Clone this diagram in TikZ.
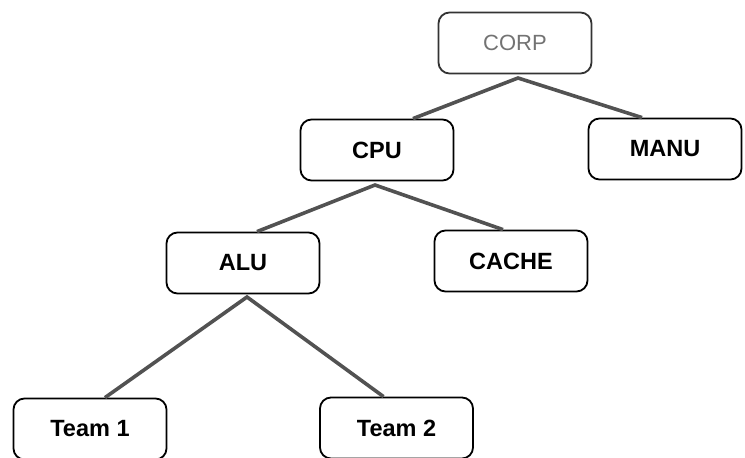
\documentclass[tikz,border=0pt]{standalone}
\usepackage{fontspec}
\setmainfont{Liberation Sans}
\begin{document}
\begin{tikzpicture}[x=1pt,y=-1pt,
  box/.style={draw=black, line width=1.8pt, rounded corners=11pt, fill=white,
    minimum width=153pt, minimum height=61pt, inner sep=0pt,
    font=\fontsize{23.5}{25}\selectfont\bfseries},
  link/.style={draw=black!68, line width=3.6pt}]
\useasboundingbox (0,0) rectangle (745,458);
\clip (0,0) rectangle (745,458);
\node[box, draw=black!80, text=black!55, font=\fontsize{22}{24}\selectfont] (corp) at (515,43) {CORP};
\node[box] (cpu) at (377,150) {CPU};
\node[box] (manu) at (665,149) {MANU};
\node[box] (alu) at (243,263) {ALU};
\node[box] (cache) at (511,261) {CACHE};
\node[box] (t1) at (90,429) {\raisebox{-3pt}{Team 1}};
\node[box] (t2) at (396.5,428) {\raisebox{-2pt}{Team 2}};
\coordinate (corpj) at (518,78);
\coordinate (cpuj) at (375,185);
\coordinate (aluj) at (247,297);
\draw[link] ([xshift=36pt]cpu.north) -- (corpj) -- ([xshift=-23pt]manu.north);
\draw[link] ([xshift=14pt]alu.north) -- (cpuj) -- ([xshift=-8pt]cache.north);
\draw[link] ([xshift=15pt]t1.north) -- (aluj) -- ([xshift=-13pt]t2.north);
\end{tikzpicture}
\end{document}
